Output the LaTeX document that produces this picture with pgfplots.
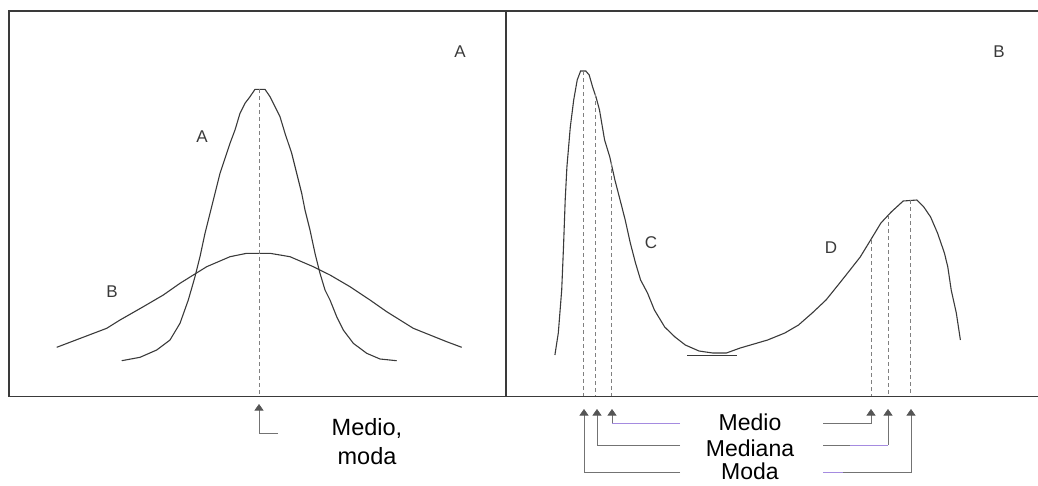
\documentclass[border=0pt]{standalone}
\usepackage{fontspec}
\setmainfont{Liberation Sans}
\usepackage{pgfplots}
\pgfplotsset{compat=1.18}
\usetikzlibrary{arrows.meta}
\definecolor{ink}{HTML}{3A3A3A}
\definecolor{lila}{HTML}{A58BE0}
\definecolor{arr}{HTML}{555555}
\begin{document}
\begin{tikzpicture}[x=1pt,y=1pt]
\useasboundingbox (0,0) rectangle (1038,485);
\begin{axis}[at={(0,0)}, anchor=south west, width=1038pt, height=485pt, scale only axis,
  xmin=0, xmax=1038, ymin=0, ymax=485, y dir=reverse, hide axis, clip=false]
% frames
\addplot[ink, line width=1.4pt] coordinates {(1038,11)(9,11)(9,396.5)(1038,396.5)};
\addplot[ink, line width=1.2pt] coordinates {(506,11)(506,396.5)};
% left panel: curve A (narrow)
\addplot[ink, line width=1.1pt] coordinates {
(121.7,360.7)(140,357.3)(156.7,350)(170,340)(180,323.3)(188.3,300)(195,276.7)(200,256.7)
(205,233.3)(210,213.3)(215,193.3)(220,173.3)(226.7,153.3)(230,143.3)(235,130)(240,113.3)
(245,103.3)(250,96.7)(255,89.3)(265,89.3)(270,96.7)(275,106.7)(280,116.7)(285,133.3)
(291.7,153.3)(296.7,173.3)(301.7,193.3)(305,210)(310,230)(315,253.3)(320,273.3)(325,290)
(330,300)(336.7,316.7)(343.3,330)(353.3,343.3)(366.7,353.3)(380,359)(396.7,360.7)};
% left panel: curve B (wide)
\addplot[ink, line width=1.1pt] coordinates {
(56.7,347.3)(106.7,328.3)(120,320)(143.3,306.7)(163.3,295)(180,283.3)(193.3,275)(206.7,266.7)
(230,256.7)(246.7,253.3)(270,253.3)(290,256.7)(313.3,266.7)(330,275)(350,286.7)(370,300)
(386.7,311.7)(400,320)(413.3,328.3)(430,335)(446.7,341.7)(461.7,347.3)};
\addplot[gray, line width=0.7pt, dash pattern=on 4pt off 3pt] coordinates {(259,89.3)(259,396)};
% right panel curve
\addplot[ink, line width=1.1pt] coordinates {
(554.9,355)(558.3,333)(561.7,290)(563.5,247)(565.2,200)(566.9,167)(570.3,127)(573.7,100)
(577.2,80)(580.6,71)(585.8,71)(589.2,75)(592.6,87)(596.0,97)(599.5,110)(604.6,140)
(609.8,157)(614.9,180)(620.1,200)(625.2,220)(630.3,243)(635.5,263)(640.6,280)(647.5,293)
(654.4,310)(664.7,327)(675,337)(685.3,345)(699,351)(712.7,353)(726.4,353)(740.2,348)
(753.9,344)(767.6,340)(784.8,333)(798.5,325)(812.2,313)(826,300)(839.7,283)(850,270)
(860.2,257)(870.6,240)(880.9,223)(891.2,212)(903.2,201)(916.9,200)(923.8,207)(930.6,217)
(937.5,233)(944.4,253)(947.8,267)(951.2,290)(956.3,313)(960.4,340)};
\addplot[ink, line width=1.1pt] coordinates {(687,355.5)(737,355.5)};
% dashed verticals
\addplot[gray, line width=0.7pt, dash pattern=on 4pt off 3pt] coordinates {(583,71)(583,396)};
\addplot[gray, line width=0.7pt, dash pattern=on 4pt off 3pt] coordinates {(595,94)(595,396)};
\addplot[gray, line width=0.7pt, dash pattern=on 4pt off 3pt] coordinates {(611,162)(611,396)};
\addplot[gray, line width=0.7pt, dash pattern=on 4pt off 3pt] coordinates {(871,240)(871,396)};
\addplot[gray, line width=0.7pt, dash pattern=on 4pt off 3pt] coordinates {(888,215)(888,396)};
\addplot[gray, line width=0.7pt, dash pattern=on 4pt off 3pt] coordinates {(910,200)(910,396)};
% arrows
\pgfplotsset{arrline/.style={gray!90!black, line width=0.6pt, -{Triangle[width=9pt,length=6.5pt,color=arr,fill=arr]}}}
\addplot[arrline] coordinates {(278,433)(259,433)(259,404)};
\addplot[lila, line width=0.6pt] coordinates {(680,423)(612,423)};
\addplot[arrline] coordinates {(612,423)(612,409)};
\addplot[arrline] coordinates {(680,445)(597,445)(597,409)};
\addplot[arrline] coordinates {(680,472)(584,472)(584,409)};
\addplot[arrline] coordinates {(823,423)(871,423)(871,409)};
\addplot[gray!90!black, line width=0.6pt] coordinates {(823,445)(850,445)};
\addplot[lila, line width=0.6pt] coordinates {(850,445)(888,445)};
\addplot[arrline] coordinates {(888,445)(888,409)};
\addplot[lila, line width=0.6pt] coordinates {(823,472)(843,472)};
\addplot[arrline] coordinates {(843,472)(911,472)(911,409)};
% labels
\node[ink, font=\fontsize{17}{20}\selectfont] at (axis cs:460,52) {A};
\node[ink, font=\fontsize{17}{20}\selectfont] at (axis cs:202,137) {A};
\node[ink, font=\fontsize{17}{20}\selectfont] at (axis cs:112,292) {B};
\node[ink, font=\fontsize{17}{20}\selectfont] at (axis cs:999,52) {B};
\node[ink, font=\fontsize{17}{20}\selectfont] at (axis cs:651,243) {C};
\node[ink, font=\fontsize{17}{20}\selectfont] at (axis cs:831,248) {D};
\node[font=\fontsize{23.5}{28}\selectfont] at (axis cs:367,428) {Medio,};
\node[font=\fontsize{23.5}{28}\selectfont] at (axis cs:367,456) {moda};
\node[font=\fontsize{23}{28}\selectfont] at (axis cs:750,422) {Medio};
\node[font=\fontsize{23}{28}\selectfont] at (axis cs:750,448) {Mediana};
\node[font=\fontsize{23}{28}\selectfont, anchor=base, inner sep=0pt] at (axis cs:750,479) {Moda};
\end{axis}
\end{tikzpicture}
\end{document}
